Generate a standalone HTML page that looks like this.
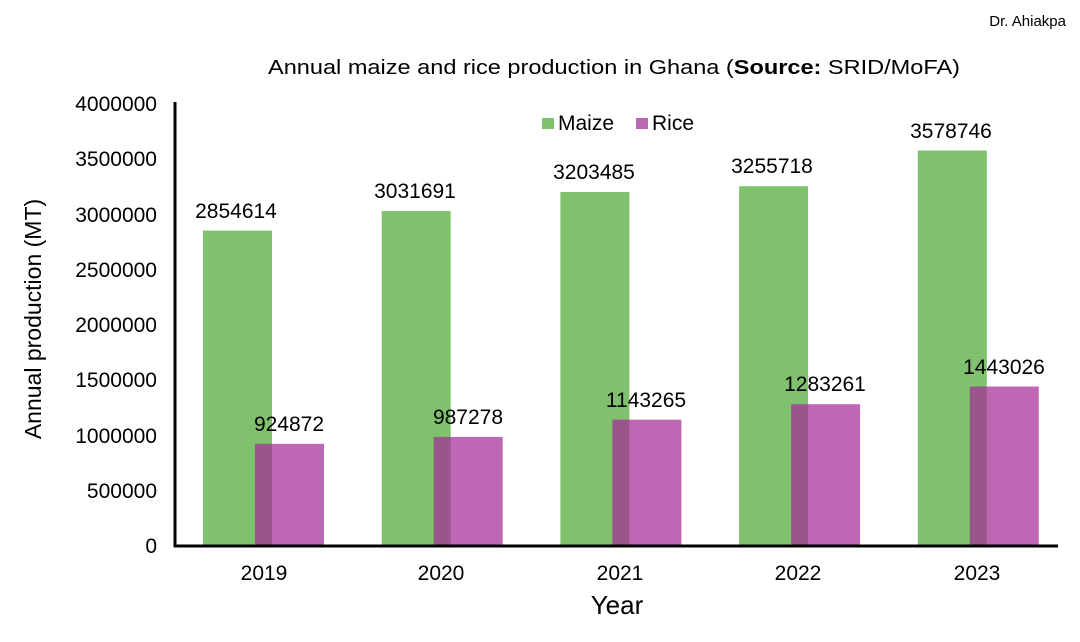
<!DOCTYPE html>
<html><head><meta charset="utf-8"><style>html,body{margin:0;padding:0;background:#fff}</style></head>
<body>
<svg width="1080" height="637" xmlns="http://www.w3.org/2000/svg" font-family="Liberation Sans, Arial, sans-serif">
<rect width="1080" height="637" fill="#fff"/>
<text x="1066" y="26" font-size="15" text-anchor="end">Dr. Ahiakpa</text>
<text x="268" y="74" font-size="20" textLength="692" lengthAdjust="spacingAndGlyphs">Annual maize and rice production in Ghana (<tspan font-weight="bold">Source:</tspan> SRID/MoFA)</text>
<g font-size="21" text-anchor="end">
<text x="157" y="553">0</text>
<text x="157" y="498">500000</text>
<text x="157" y="443">1000000</text>
<text x="157" y="387">1500000</text>
<text x="157" y="332">2000000</text>
<text x="157" y="277">2500000</text>
<text x="157" y="222">3000000</text>
<text x="157" y="166">3500000</text>
<text x="157" y="111">4000000</text>
</g>
<text transform="translate(41,319) rotate(-90)" font-size="23" text-anchor="middle">Annual production (MT)</text>
<rect x="203" y="230.6" width="69" height="315.4" fill="#80c16e"/>
<rect x="381.7" y="211" width="69" height="335" fill="#80c16e"/>
<rect x="560.4" y="192" width="69" height="354" fill="#80c16e"/>
<rect x="739.1" y="186.2" width="69" height="359.8" fill="#80c16e"/>
<rect x="917.8" y="150.5" width="69" height="395.5" fill="#80c16e"/>
<g fill="#a42c98" fill-opacity="0.72">
<rect x="255" y="443.8" width="69" height="102.2"/>
<rect x="433.7" y="436.9" width="69" height="109.1"/>
<rect x="612.4" y="419.7" width="69" height="126.3"/>
<rect x="791.1" y="404.2" width="69" height="141.8"/>
<rect x="969.8" y="386.5" width="69" height="159.5"/>
</g>
<g font-size="21" text-anchor="middle">
<text x="236" y="218">2854614</text>
<text x="415" y="198">3031691</text>
<text x="594" y="179">3203485</text>
<text x="772" y="173">3255718</text>
<text x="951" y="138">3578746</text>
<text x="289" y="431">924872</text>
<text x="468" y="424">987278</text>
<text x="646" y="407">1143265</text>
<text x="825" y="391">1283261</text>
<text x="1004" y="374">1443026</text>
</g>
<line x1="175" y1="102" x2="175" y2="547" stroke="#000" stroke-width="3"/>
<line x1="174" y1="546" x2="1058" y2="546" stroke="#000" stroke-width="3"/>
<g font-size="21" text-anchor="middle">
<text x="264" y="580">2019</text>
<text x="441" y="580">2020</text>
<text x="620" y="580">2021</text>
<text x="798" y="580">2022</text>
<text x="977" y="580">2023</text>
</g>
<text x="617" y="614" font-size="26" text-anchor="middle">Year</text>
<rect x="542" y="118" width="12" height="11" fill="#80c16e"/>
<text x="558" y="130" font-size="21">Maize</text>
<rect x="636" y="118" width="12" height="11" fill="#bb68b3"/>
<text x="652" y="130" font-size="21">Rice</text>
</svg>
</body></html>
